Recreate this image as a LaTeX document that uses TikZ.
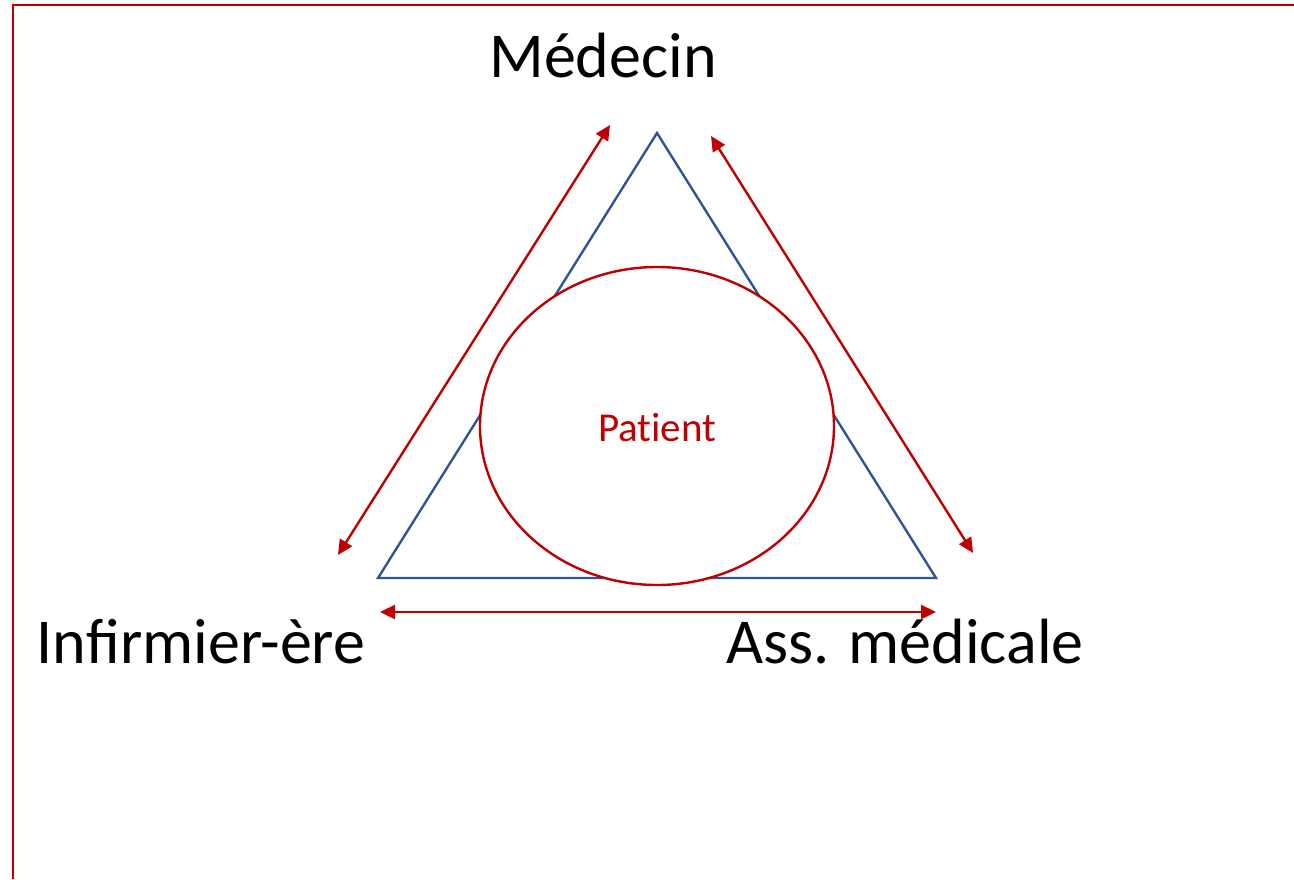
\documentclass[tikz,border=0pt]{standalone}
\usepackage{fontspec}
\setmainfont{Carlito}
\usetikzlibrary{arrows.meta,shapes.geometric}
\definecolor{myred}{HTML}{C00000}
\definecolor{myblue}{HTML}{2F5597}
\tikzset{
  dblarrow/.style={draw=myred, line width=2.4pt, {Triangle[length=15pt,width=14pt]}-{Triangle[length=15pt,width=14pt]}},
  rolelabel/.style={font=\fontsize{64}{70}\selectfont, text=black, inner sep=0pt},
}
\begin{document}
\begin{tikzpicture}[x=1pt,y=-1pt]
\useasboundingbox (0,0) rectangle (1294,879);
% frame
\draw[myred, line width=2.6pt] (13,879) -- (13,5) -- (1294,5);
% triangle
\coordinate (A) at (657,133);
\coordinate (B) at (378,578);
\coordinate (C) at (936,578);
\draw[myblue, line width=2.4pt, line join=miter] (A) -- (B) -- (C) -- cycle;
% patient
\node[draw=myred, line width=2.4pt, fill=white, ellipse, minimum width=354pt, minimum height=318pt, inner sep=0pt] (P) at (657,426) {};
\node[text=myred, font=\fontsize{41}{48}\selectfont\addfontfeatures{Ligatures=NoCommon}] (PT) at (657,428) {Patient};
% arrow end points
\coordinate (l1) at (338,555);
\coordinate (l2) at (610,125);
\coordinate (r1) at (711,136);
\coordinate (r2) at (973,553);
\coordinate (b1) at (380,612);
\coordinate (b2) at (936,612);
\draw[dblarrow] (l1) -- (l2);
\draw[dblarrow] (r1) -- (r2);
\draw[dblarrow] (b1) -- (b2);
% labels
\node[rolelabel, anchor=base] (M) at (603,77) {Médecin};
\node[rolelabel, anchor=base] (I) at (201,663) {Infirmier-ère};
\node[rolelabel, anchor=base] (S) at (905,663) {Ass. médicale};
\end{tikzpicture}
\end{document}
